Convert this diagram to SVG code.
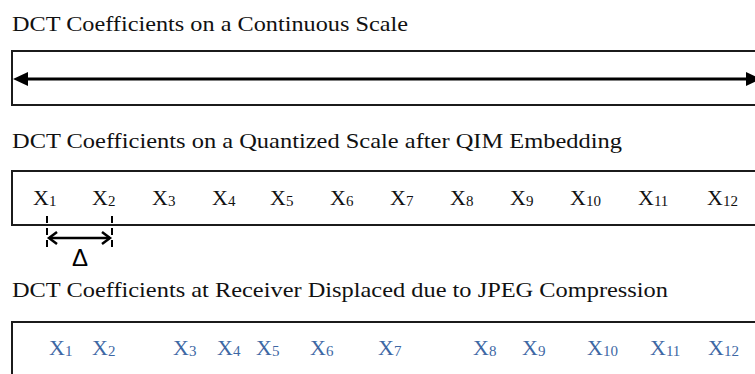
<svg xmlns="http://www.w3.org/2000/svg" width="755" height="374" viewBox="0 0 755 374">
  <style>
    .title { font-family: "Liberation Serif", "Times New Roman", serif; font-size: 22px; fill: #111; }
    .lbl { font-family: "Liberation Serif", "Times New Roman", serif; font-size: 22px; fill: #111; }
    .rx { fill: #3D67A4; }
    .sub { font-size: 15px; }
    .box { fill: #fff; stroke: #1b1b1b; stroke-width: 2; }
    .axis { stroke: #000; stroke-width: 3; fill: none; }
    .dash { stroke: #000; stroke-width: 2; stroke-dasharray: 7 5; fill: none; }
    .dim { stroke: #000; stroke-width: 2.5; fill: none; }
    .delta { font-family: "Liberation Sans", Arial, sans-serif; font-size: 24px; fill: #000; }
  </style>

  <!-- Continuous scale -->
  <g id="continuous">
    <text class="title" x="12" y="31" textLength="396" lengthAdjust="spacingAndGlyphs">DCT Coefficients on a Continuous Scale</text>
    <rect class="box" x="12" y="51" width="760" height="54"/>
  </g>

  <!-- Quantized scale -->
  <g id="quantized">
    <text class="title" x="12" y="148" textLength="610" lengthAdjust="spacingAndGlyphs">DCT Coefficients on a Quantized Scale after QIM Embedding</text>
    <rect class="box" x="12" y="171" width="760" height="54"/>
    <text class="lbl" y="205">
      <tspan x="33">X</tspan><tspan class="sub" dy="1">1</tspan>
      <tspan x="92" dy="-1">X</tspan><tspan class="sub" dy="1">2</tspan>
      <tspan x="152" dy="-1">X</tspan><tspan class="sub" dy="1">3</tspan>
      <tspan x="212" dy="-1">X</tspan><tspan class="sub" dy="1">4</tspan>
      <tspan x="270" dy="-1">X</tspan><tspan class="sub" dy="1">5</tspan>
      <tspan x="330" dy="-1">X</tspan><tspan class="sub" dy="1">6</tspan>
      <tspan x="390" dy="-1">X</tspan><tspan class="sub" dy="1">7</tspan>
      <tspan x="450" dy="-1">X</tspan><tspan class="sub" dy="1">8</tspan>
      <tspan x="510" dy="-1">X</tspan><tspan class="sub" dy="1">9</tspan>
      <tspan x="570" dy="-1">X</tspan><tspan class="sub" dy="1">10</tspan>
      <tspan x="638" dy="-1">X</tspan><tspan class="sub" dy="1">11</tspan>
      <tspan x="707" dy="-1">X</tspan><tspan class="sub" dy="1">12</tspan>
    </text>
  </g>

  <!-- Receiver scale -->
  <g id="receiver">
    <text class="title" x="12" y="297" textLength="656" lengthAdjust="spacingAndGlyphs">DCT Coefficients at Receiver Displaced due to JPEG Compression</text>
    <rect class="box" x="12" y="322" width="760" height="80"/>
    <text class="lbl rx" y="355">
      <tspan x="49">X</tspan><tspan class="sub" dy="1">1</tspan>
      <tspan x="92" dy="-1">X</tspan><tspan class="sub" dy="1">2</tspan>
      <tspan x="173" dy="-1">X</tspan><tspan class="sub" dy="1">3</tspan>
      <tspan x="217" dy="-1">X</tspan><tspan class="sub" dy="1">4</tspan>
      <tspan x="256" dy="-1">X</tspan><tspan class="sub" dy="1">5</tspan>
      <tspan x="310" dy="-1">X</tspan><tspan class="sub" dy="1">6</tspan>
      <tspan x="378" dy="-1">X</tspan><tspan class="sub" dy="1">7</tspan>
      <tspan x="473" dy="-1">X</tspan><tspan class="sub" dy="1">8</tspan>
      <tspan x="522" dy="-1">X</tspan><tspan class="sub" dy="1">9</tspan>
      <tspan x="587" dy="-1">X</tspan><tspan class="sub" dy="1">10</tspan>
      <tspan x="650" dy="-1">X</tspan><tspan class="sub" dy="1">11</tspan>
      <tspan x="708" dy="-1">X</tspan><tspan class="sub" dy="1">12</tspan>
    </text>
  </g>

  <!-- Step-size marker between X1 and X2 -->
  <g id="delta">
    <line class="dash" x1="47" y1="216" x2="47" y2="251"/>
    <line class="dash" x1="112" y1="216" x2="112" y2="251"/>
    <text class="delta" x="80" y="266" text-anchor="middle">Δ</text>
  </g>

  <g id="connectors">
    <!-- continuous axis, two-headed -->
    <line class="axis" x1="20" y1="79" x2="752" y2="79"/>
    <polygon points="13,79 28,72 28,86" fill="#000"/>
    <polygon points="761,79 746,72 746,86" fill="#000"/>
    <!-- step width -->
    <line class="dim" x1="49" y1="238" x2="110" y2="238"/>
    <polyline class="dim" points="57,232 49,238 57,244"/>
    <polyline class="dim" points="102,232 110,238 102,244"/>
  </g>
</svg>
